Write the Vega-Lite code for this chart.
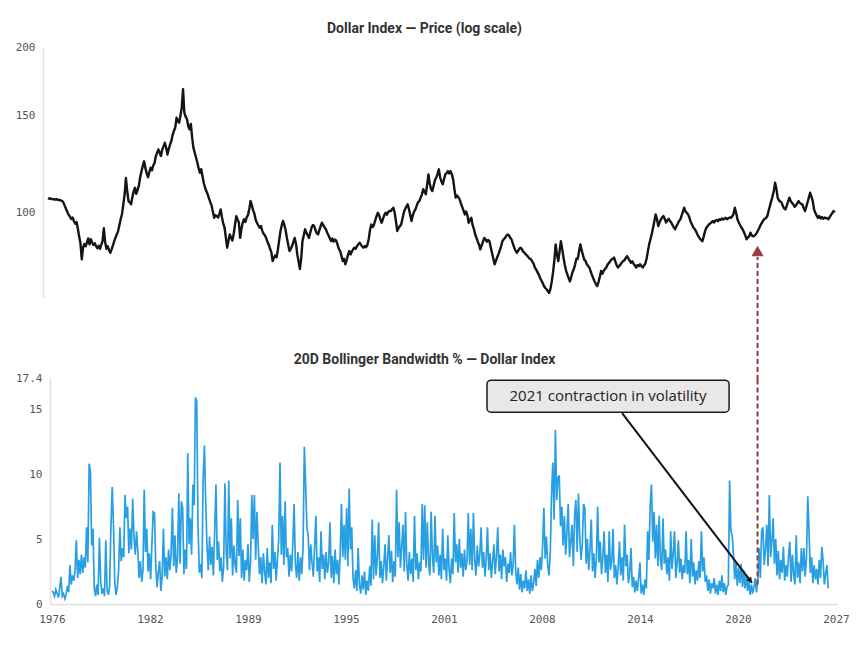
{
  "$schema": "https://vega.github.io/schema/vega-lite/v6.json",
  "background": "#ffffff",
  "autosize": {"type": "pad"},
  "padding": {"left": 15, "top": 22, "right": 10, "bottom": 10},
  "bounds": "flush",
  "spacing": 80,
  "config": {
    "view": {"stroke": null},
    "axis": {
      "grid": false,
      "ticks": false,
      "tickSize": 0,
      "labelFont": "DejaVu Sans Mono",
      "labelFontSize": 11,
      "labelColor": "#555555",
      "domainColor": "#e0e0e0",
      "domainWidth": 1.5,
      "labelPadding": 8,
      "title": null
    },
    "title": {
      "font": "Roboto",
      "fontSize": 14,
      "fontWeight": "bold",
      "color": "#333333",
      "anchor": "middle",
      "frame": "group",
      "offset": 5,
      "baseline": "alphabetic",
      "dx": -19
    }
  },
  "resolve": {"scale": {"x": "independent", "y": "independent"}},
  "datasets": {
    "dxy": [
      {"t":1976,"p":106.3,"b":1.0},{"t":1976.083,"p":106.0,"b":0.9},{"t":1976.167,"p":106.2,"b":0.6},{"t":1976.25,"p":105.9,"b":1.1},{"t":1976.333,"p":105.7,"b":0.8},{"t":1976.417,"p":105.9,"b":0.5},{"t":1976.5,"p":105.6,"b":1.2},{"t":1976.583,"p":105.8,"b":2.1},{"t":1976.667,"p":105.4,"b":0.6},{"t":1976.75,"p":105.5,"b":0.8},{"t":1976.833,"p":105.2,"b":0.4},{"t":1976.917,"p":105.0,"b":0.7},
      {"t":1977,"p":104.2,"b":1.4},{"t":1977.083,"p":102.8,"b":0.9},{"t":1977.167,"p":101.5,"b":3.0},{"t":1977.25,"p":100.2,"b":1.5},{"t":1977.333,"p":99.0,"b":2.2},{"t":1977.417,"p":98.3,"b":1.8},{"t":1977.5,"p":97.4,"b":2.6},{"t":1977.583,"p":98.0,"b":4.9},{"t":1977.667,"p":96.4,"b":2.0},{"t":1977.75,"p":95.5,"b":3.4},{"t":1977.833,"p":96.2,"b":2.3},{"t":1977.917,"p":93.5,"b":3.8},
      {"t":1978,"p":90.5,"b":2.4},{"t":1978.083,"p":88.0,"b":3.6},{"t":1978.167,"p":82.3,"b":2.8},{"t":1978.25,"p":86.5,"b":5.9},{"t":1978.333,"p":87.7,"b":3.2},{"t":1978.417,"p":86.9,"b":10.8},{"t":1978.5,"p":88.3,"b":10.2},{"t":1978.583,"p":89.8,"b":4.5},{"t":1978.667,"p":87.6,"b":5.8},{"t":1978.75,"p":89.5,"b":1.2},{"t":1978.833,"p":88.2,"b":0.6},{"t":1978.917,"p":87.4,"b":1.5},
      {"t":1979,"p":88.0,"b":0.7},{"t":1979.083,"p":87.0,"b":5.1},{"t":1979.167,"p":86.2,"b":1.8},{"t":1979.25,"p":87.1,"b":0.8},{"t":1979.333,"p":86.0,"b":1.2},{"t":1979.417,"p":87.4,"b":0.6},{"t":1979.5,"p":88.8,"b":4.9},{"t":1979.583,"p":93.7,"b":1.1},{"t":1979.667,"p":88.5,"b":0.7},{"t":1979.75,"p":86.0,"b":1.4},{"t":1979.833,"p":86.9,"b":5.9},{"t":1979.917,"p":85.6,"b":9.0},
      {"t":1980,"p":84.6,"b":6.1},{"t":1980.083,"p":85.8,"b":1.7},{"t":1980.167,"p":87.2,"b":0.7},{"t":1980.25,"p":88.8,"b":1.3},{"t":1980.333,"p":90.1,"b":2.6},{"t":1980.417,"p":91.4,"b":5.9},{"t":1980.5,"p":92.6,"b":3.3},{"t":1980.583,"p":95.0,"b":4.3},{"t":1980.667,"p":97.4,"b":3.6},{"t":1980.75,"p":99.5,"b":8.4},{"t":1980.833,"p":103.5,"b":6.6},{"t":1980.917,"p":108.0,"b":7.5},
      {"t":1981,"p":115.6,"b":3.9},{"t":1981.083,"p":109.5,"b":5.8},{"t":1981.167,"p":105.0,"b":4.2},{"t":1981.25,"p":104.4,"b":8.1},{"t":1981.333,"p":103.6,"b":5.2},{"t":1981.417,"p":106.8,"b":3.8},{"t":1981.5,"p":109.4,"b":5.6},{"t":1981.583,"p":111.0,"b":4.1},{"t":1981.667,"p":108.2,"b":2.0},{"t":1981.75,"p":110.0,"b":3.3},{"t":1981.833,"p":112.0,"b":1.7},{"t":1981.917,"p":116.0,"b":2.6},
      {"t":1982,"p":119.0,"b":8.8},{"t":1982.083,"p":121.5,"b":4.0},{"t":1982.167,"p":124.0,"b":5.8},{"t":1982.25,"p":120.5,"b":2.5},{"t":1982.333,"p":118.0,"b":3.9},{"t":1982.417,"p":116.0,"b":1.9},{"t":1982.5,"p":118.3,"b":4.6},{"t":1982.583,"p":120.7,"b":7.1},{"t":1982.667,"p":119.4,"b":7.0},{"t":1982.75,"p":121.8,"b":3.0},{"t":1982.833,"p":123.0,"b":1.3},{"t":1982.917,"p":126.5,"b":2.4},
      {"t":1983,"p":128.4,"b":3.3},{"t":1983.083,"p":130.3,"b":1.0},{"t":1983.167,"p":128.6,"b":2.2},{"t":1983.25,"p":126.8,"b":5.8},{"t":1983.333,"p":130.2,"b":2.1},{"t":1983.417,"p":132.0,"b":3.6},{"t":1983.5,"p":134.0,"b":1.9},{"t":1983.583,"p":131.2,"b":4.2},{"t":1983.667,"p":127.6,"b":2.6},{"t":1983.75,"p":130.5,"b":3.9},{"t":1983.833,"p":133.0,"b":7.4},{"t":1983.917,"p":135.0,"b":2.9},
      {"t":1984,"p":138.5,"b":5.3},{"t":1984.083,"p":140.9,"b":2.4},{"t":1984.167,"p":142.7,"b":3.5},{"t":1984.25,"p":148.8,"b":8.5},{"t":1984.333,"p":146.5,"b":3.1},{"t":1984.417,"p":145.7,"b":7.9},{"t":1984.5,"p":150.2,"b":7.4},{"t":1984.583,"p":155.2,"b":2.3},{"t":1984.667,"p":167.6,"b":4.2},{"t":1984.75,"p":152.0,"b":2.7},{"t":1984.833,"p":149.5,"b":11.6},{"t":1984.917,"p":148.0,"b":4.6},
      {"t":1985,"p":143.6,"b":6.6},{"t":1985.083,"p":141.7,"b":3.8},{"t":1985.167,"p":145.0,"b":9.2},{"t":1985.25,"p":137.0,"b":7.6},{"t":1985.333,"p":131.3,"b":15.9},{"t":1985.417,"p":128.5,"b":15.6},{"t":1985.5,"p":126.0,"b":6.1},{"t":1985.583,"p":123.4,"b":2.4},{"t":1985.667,"p":120.5,"b":3.1},{"t":1985.75,"p":118.2,"b":2.0},{"t":1985.833,"p":120.0,"b":9.7},{"t":1985.917,"p":116.5,"b":12.2},
      {"t":1986,"p":113.2,"b":7.9},{"t":1986.083,"p":111.0,"b":4.5},{"t":1986.167,"p":109.4,"b":2.6},{"t":1986.25,"p":108.0,"b":5.2},{"t":1986.333,"p":106.2,"b":3.0},{"t":1986.417,"p":104.5,"b":4.4},{"t":1986.5,"p":103.0,"b":2.2},{"t":1986.583,"p":100.4,"b":5.6},{"t":1986.667,"p":97.9,"b":9.2},{"t":1986.75,"p":99.0,"b":3.4},{"t":1986.833,"p":98.6,"b":4.8},{"t":1986.917,"p":98.0,"b":2.5},
      {"t":1987,"p":99.5,"b":3.6},{"t":1987.083,"p":101.4,"b":1.7},{"t":1987.167,"p":98.0,"b":2.9},{"t":1987.25,"p":95.5,"b":9.3},{"t":1987.333,"p":93.9,"b":4.0},{"t":1987.417,"p":90.0,"b":2.6},{"t":1987.5,"p":86.4,"b":9.5},{"t":1987.583,"p":88.9,"b":3.5},{"t":1987.667,"p":91.3,"b":6.6},{"t":1987.75,"p":90.2,"b":2.2},{"t":1987.833,"p":89.0,"b":4.5},{"t":1987.917,"p":91.5,"b":3.0},
      {"t":1988,"p":95.0,"b":2.4},{"t":1988.083,"p":98.6,"b":8.0},{"t":1988.167,"p":97.2,"b":3.7},{"t":1988.25,"p":96.0,"b":6.6},{"t":1988.333,"p":90.0,"b":2.0},{"t":1988.417,"p":93.5,"b":4.2},{"t":1988.5,"p":96.0,"b":1.8},{"t":1988.583,"p":97.3,"b":3.4},{"t":1988.667,"p":96.2,"b":2.6},{"t":1988.75,"p":98.1,"b":4.6},{"t":1988.833,"p":99.0,"b":1.7},{"t":1988.917,"p":101.5,"b":3.2},
      {"t":1989,"p":105.0,"b":8.4},{"t":1989.083,"p":103.2,"b":5.0},{"t":1989.167,"p":101.0,"b":8.4},{"t":1989.25,"p":99.5,"b":3.4},{"t":1989.333,"p":97.0,"b":7.1},{"t":1989.417,"p":95.8,"b":4.5},{"t":1989.5,"p":94.8,"b":2.3},{"t":1989.583,"p":93.9,"b":3.6},{"t":1989.667,"p":94.6,"b":1.6},{"t":1989.75,"p":92.8,"b":3.9},{"t":1989.833,"p":91.6,"b":2.5},{"t":1989.917,"p":91.0,"b":1.5},
      {"t":1990,"p":90.0,"b":4.3},{"t":1990.083,"p":88.6,"b":2.0},{"t":1990.167,"p":87.5,"b":3.2},{"t":1990.25,"p":86.0,"b":1.6},{"t":1990.333,"p":84.8,"b":6.1},{"t":1990.417,"p":81.7,"b":2.7},{"t":1990.5,"p":82.8,"b":4.0},{"t":1990.583,"p":83.6,"b":1.8},{"t":1990.667,"p":83.0,"b":3.5},{"t":1990.75,"p":85.5,"b":5.0},{"t":1990.833,"p":89.0,"b":10.9},{"t":1990.917,"p":92.5,"b":3.8},
      {"t":1991,"p":94.8,"b":6.8},{"t":1991.083,"p":96.6,"b":3.0},{"t":1991.167,"p":95.0,"b":7.9},{"t":1991.25,"p":93.0,"b":3.6},{"t":1991.333,"p":90.0,"b":4.3},{"t":1991.417,"p":87.5,"b":2.1},{"t":1991.5,"p":85.2,"b":3.8},{"t":1991.583,"p":86.0,"b":2.5},{"t":1991.667,"p":87.0,"b":4.6},{"t":1991.75,"p":88.5,"b":7.7},{"t":1991.833,"p":90.0,"b":3.1},{"t":1991.917,"p":87.8,"b":2.0},
      {"t":1992,"p":84.0,"b":4.0},{"t":1992.083,"p":81.5,"b":1.8},{"t":1992.167,"p":79.0,"b":3.6},{"t":1992.25,"p":82.5,"b":2.3},{"t":1992.333,"p":88.8,"b":4.4},{"t":1992.417,"p":91.0,"b":12.1},{"t":1992.5,"p":93.3,"b":9.3},{"t":1992.583,"p":92.0,"b":5.9},{"t":1992.667,"p":91.0,"b":5.3},{"t":1992.75,"p":90.0,"b":2.6},{"t":1992.833,"p":92.0,"b":4.6},{"t":1992.917,"p":94.0,"b":3.2},
      {"t":1993,"p":95.0,"b":2.1},{"t":1993.083,"p":94.6,"b":4.4},{"t":1993.167,"p":93.0,"b":6.8},{"t":1993.25,"p":91.8,"b":2.5},{"t":1993.333,"p":91.3,"b":3.6},{"t":1993.417,"p":93.0,"b":1.7},{"t":1993.5,"p":94.5,"b":5.6},{"t":1993.583,"p":95.9,"b":2.7},{"t":1993.667,"p":95.0,"b":3.8},{"t":1993.75,"p":94.0,"b":1.9},{"t":1993.833,"p":93.3,"b":4.0},{"t":1993.917,"p":92.0,"b":2.4},
      {"t":1994,"p":91.0,"b":3.2},{"t":1994.083,"p":89.9,"b":6.3},{"t":1994.167,"p":88.8,"b":2.0},{"t":1994.25,"p":89.8,"b":3.7},{"t":1994.333,"p":88.6,"b":1.6},{"t":1994.417,"p":89.4,"b":4.2},{"t":1994.5,"p":89.0,"b":2.3},{"t":1994.583,"p":87.5,"b":3.4},{"t":1994.667,"p":86.0,"b":1.5},{"t":1994.75,"p":85.2,"b":3.9},{"t":1994.833,"p":83.5,"b":7.7},{"t":1994.917,"p":81.7,"b":3.6},
      {"t":1995,"p":82.5,"b":6.1},{"t":1995.083,"p":80.6,"b":3.4},{"t":1995.167,"p":82.0,"b":7.4},{"t":1995.25,"p":83.8,"b":2.9},{"t":1995.333,"p":85.2,"b":8.9},{"t":1995.417,"p":84.0,"b":4.2},{"t":1995.5,"p":85.0,"b":5.9},{"t":1995.583,"p":85.8,"b":2.0},{"t":1995.667,"p":86.4,"b":1.2},{"t":1995.75,"p":86.0,"b":2.6},{"t":1995.833,"p":87.0,"b":1.0},{"t":1995.917,"p":87.6,"b":4.3},
      {"t":1996,"p":88.2,"b":1.5},{"t":1996.083,"p":87.5,"b":0.8},{"t":1996.167,"p":86.8,"b":2.2},{"t":1996.25,"p":86.4,"b":1.1},{"t":1996.333,"p":87.0,"b":2.5},{"t":1996.417,"p":86.6,"b":0.7},{"t":1996.5,"p":87.4,"b":1.8},{"t":1996.583,"p":89.6,"b":1.0},{"t":1996.667,"p":93.0,"b":2.9},{"t":1996.75,"p":95.2,"b":1.4},{"t":1996.833,"p":94.2,"b":6.5},{"t":1996.917,"p":95.0,"b":1.9},
      {"t":1997,"p":96.8,"b":5.3},{"t":1997.083,"p":98.5,"b":2.2},{"t":1997.167,"p":100.0,"b":3.6},{"t":1997.25,"p":99.0,"b":6.3},{"t":1997.333,"p":97.2,"b":2.0},{"t":1997.417,"p":95.9,"b":3.3},{"t":1997.5,"p":97.5,"b":1.6},{"t":1997.583,"p":99.0,"b":2.9},{"t":1997.667,"p":100.0,"b":4.6},{"t":1997.75,"p":99.2,"b":1.8},{"t":1997.833,"p":100.3,"b":3.5},{"t":1997.917,"p":100.7,"b":5.3},
      {"t":1998,"p":100.7,"b":2.4},{"t":1998.083,"p":101.5,"b":4.1},{"t":1998.167,"p":102.1,"b":1.7},{"t":1998.25,"p":100.0,"b":3.3},{"t":1998.333,"p":96.5,"b":2.1},{"t":1998.417,"p":92.6,"b":8.8},{"t":1998.5,"p":93.8,"b":3.6},{"t":1998.583,"p":94.5,"b":6.3},{"t":1998.667,"p":95.2,"b":2.8},{"t":1998.75,"p":97.5,"b":4.4},{"t":1998.833,"p":100.0,"b":6.1},{"t":1998.917,"p":101.5,"b":2.5},
      {"t":1999,"p":102.6,"b":7.1},{"t":1999.083,"p":103.6,"b":3.0},{"t":1999.167,"p":101.5,"b":1.8},{"t":1999.25,"p":99.0,"b":4.0},{"t":1999.333,"p":96.6,"b":2.3},{"t":1999.417,"p":99.0,"b":3.5},{"t":1999.5,"p":100.5,"b":1.7},{"t":1999.583,"p":101.4,"b":6.8},{"t":1999.667,"p":103.0,"b":2.6},{"t":1999.75,"p":104.5,"b":3.9},{"t":1999.833,"p":105.0,"b":1.9},{"t":1999.917,"p":106.5,"b":3.2},
      {"t":2000,"p":108.0,"b":2.5},{"t":2000.083,"p":110.3,"b":7.7},{"t":2000.167,"p":109.2,"b":3.4},{"t":2000.25,"p":108.0,"b":7.6},{"t":2000.333,"p":112.5,"b":2.8},{"t":2000.417,"p":117.4,"b":6.3},{"t":2000.5,"p":113.0,"b":3.1},{"t":2000.583,"p":110.5,"b":2.2},{"t":2000.667,"p":109.5,"b":7.1},{"t":2000.75,"p":112.0,"b":3.6},{"t":2000.833,"p":114.5,"b":2.4},{"t":2000.917,"p":115.8,"b":6.8},
      {"t":2001,"p":117.5,"b":3.2},{"t":2001.083,"p":119.9,"b":4.5},{"t":2001.167,"p":116.0,"b":2.2},{"t":2001.25,"p":114.0,"b":3.8},{"t":2001.333,"p":112.6,"b":1.9},{"t":2001.417,"p":115.0,"b":5.8},{"t":2001.5,"p":117.4,"b":2.6},{"t":2001.583,"p":118.0,"b":3.5},{"t":2001.667,"p":119.0,"b":1.8},{"t":2001.75,"p":117.8,"b":5.3},{"t":2001.833,"p":119.0,"b":2.7},{"t":2001.917,"p":117.5,"b":1.6},
      {"t":2002,"p":115.0,"b":3.5},{"t":2002.083,"p":110.5,"b":2.3},{"t":2002.167,"p":106.5,"b":7.0},{"t":2002.25,"p":107.5,"b":3.2},{"t":2002.333,"p":106.8,"b":4.6},{"t":2002.417,"p":105.8,"b":2.4},{"t":2002.5,"p":104.0,"b":5.0},{"t":2002.583,"p":102.5,"b":2.8},{"t":2002.667,"p":101.0,"b":3.9},{"t":2002.75,"p":99.3,"b":2.1},{"t":2002.833,"p":100.5,"b":4.2},{"t":2002.917,"p":99.0,"b":2.6},
      {"t":2003,"p":95.9,"b":3.3},{"t":2003.083,"p":97.0,"b":7.0},{"t":2003.167,"p":97.9,"b":3.0},{"t":2003.25,"p":95.0,"b":5.8},{"t":2003.333,"p":93.5,"b":2.6},{"t":2003.417,"p":91.3,"b":7.0},{"t":2003.5,"p":90.0,"b":3.4},{"t":2003.583,"p":88.6,"b":2.2},{"t":2003.667,"p":87.5,"b":4.5},{"t":2003.75,"p":85.8,"b":2.9},{"t":2003.833,"p":87.2,"b":3.8},{"t":2003.917,"p":88.5,"b":5.9},
      {"t":2004,"p":90.0,"b":2.8},{"t":2004.083,"p":89.5,"b":4.0},{"t":2004.167,"p":88.6,"b":2.1},{"t":2004.25,"p":89.2,"b":3.5},{"t":2004.333,"p":88.8,"b":5.9},{"t":2004.417,"p":86.5,"b":2.6},{"t":2004.5,"p":84.5,"b":3.9},{"t":2004.583,"p":82.5,"b":2.0},{"t":2004.667,"p":80.6,"b":3.3},{"t":2004.75,"p":81.8,"b":4.6},{"t":2004.833,"p":83.0,"b":2.3},{"t":2004.917,"p":84.2,"b":3.7},
      {"t":2005,"p":85.5,"b":5.9},{"t":2005.083,"p":87.0,"b":2.5},{"t":2005.167,"p":88.8,"b":3.8},{"t":2005.25,"p":89.5,"b":1.9},{"t":2005.333,"p":90.0,"b":4.2},{"t":2005.417,"p":90.8,"b":2.9},{"t":2005.5,"p":91.3,"b":3.6},{"t":2005.583,"p":91.0,"b":1.7},{"t":2005.667,"p":90.0,"b":3.1},{"t":2005.75,"p":89.5,"b":2.4},{"t":2005.833,"p":88.0,"b":4.0},{"t":2005.917,"p":86.5,"b":2.2},
      {"t":2006,"p":85.5,"b":3.0},{"t":2006.083,"p":84.6,"b":6.1},{"t":2006.167,"p":85.2,"b":2.6},{"t":2006.25,"p":86.0,"b":1.5},{"t":2006.333,"p":86.4,"b":2.8},{"t":2006.417,"p":85.8,"b":1.1},{"t":2006.5,"p":85.0,"b":2.3},{"t":2006.583,"p":84.6,"b":0.9},{"t":2006.667,"p":84.0,"b":1.8},{"t":2006.75,"p":83.6,"b":1.2},{"t":2006.833,"p":83.0,"b":2.6},{"t":2006.917,"p":82.5,"b":1.0},
      {"t":2007,"p":82.3,"b":1.9},{"t":2007.083,"p":81.5,"b":0.8},{"t":2007.167,"p":80.8,"b":2.2},{"t":2007.25,"p":79.5,"b":1.0},{"t":2007.333,"p":78.8,"b":1.6},{"t":2007.417,"p":78.0,"b":2.7},{"t":2007.5,"p":77.2,"b":1.4},{"t":2007.583,"p":76.2,"b":3.4},{"t":2007.667,"p":75.3,"b":2.0},{"t":2007.75,"p":74.5,"b":3.6},{"t":2007.833,"p":73.6,"b":2.6},{"t":2007.917,"p":73.0,"b":4.4},
      {"t":2008,"p":72.6,"b":7.4},{"t":2008.083,"p":72.0,"b":3.5},{"t":2008.167,"p":71.5,"b":5.2},{"t":2008.25,"p":72.8,"b":3.0},{"t":2008.333,"p":75.0,"b":2.2},{"t":2008.417,"p":78.0,"b":4.0},{"t":2008.5,"p":82.0,"b":8.4},{"t":2008.583,"p":87.6,"b":10.9},{"t":2008.667,"p":84.0,"b":6.5},{"t":2008.75,"p":81.7,"b":13.4},{"t":2008.833,"p":85.0,"b":8.0},{"t":2008.917,"p":88.8,"b":9.7},
      {"t":2009,"p":86.0,"b":9.9},{"t":2009.083,"p":82.9,"b":6.0},{"t":2009.167,"p":80.5,"b":7.5},{"t":2009.25,"p":78.5,"b":4.5},{"t":2009.333,"p":77.3,"b":6.8},{"t":2009.417,"p":76.0,"b":3.8},{"t":2009.5,"p":75.0,"b":5.5},{"t":2009.583,"p":76.5,"b":7.7},{"t":2009.667,"p":78.0,"b":3.6},{"t":2009.75,"p":79.0,"b":4.8},{"t":2009.833,"p":80.6,"b":6.1},{"t":2009.917,"p":82.5,"b":2.9},
      {"t":2010,"p":82.5,"b":6.8},{"t":2010.083,"p":85.0,"b":8.0},{"t":2010.167,"p":87.6,"b":4.0},{"t":2010.25,"p":85.5,"b":8.5},{"t":2010.333,"p":83.8,"b":5.2},{"t":2010.417,"p":82.2,"b":3.4},{"t":2010.5,"p":81.7,"b":4.6},{"t":2010.583,"p":80.6,"b":7.7},{"t":2010.667,"p":80.0,"b":7.4},{"t":2010.75,"p":79.5,"b":3.1},{"t":2010.833,"p":78.2,"b":5.0},{"t":2010.917,"p":77.0,"b":2.6},
      {"t":2011,"p":76.0,"b":4.2},{"t":2011.083,"p":75.0,"b":6.5},{"t":2011.167,"p":74.2,"b":2.5},{"t":2011.25,"p":73.6,"b":3.9},{"t":2011.333,"p":74.8,"b":2.0},{"t":2011.417,"p":76.5,"b":3.6},{"t":2011.5,"p":78.4,"b":7.5},{"t":2011.583,"p":77.5,"b":3.2},{"t":2011.667,"p":78.5,"b":4.8},{"t":2011.75,"p":79.0,"b":2.3},{"t":2011.833,"p":79.5,"b":3.5},{"t":2011.917,"p":80.5,"b":5.6},
      {"t":2012,"p":81.0,"b":2.4},{"t":2012.083,"p":81.7,"b":3.8},{"t":2012.167,"p":82.2,"b":1.7},{"t":2012.25,"p":82.5,"b":5.6},{"t":2012.333,"p":82.9,"b":2.6},{"t":2012.417,"p":81.5,"b":3.3},{"t":2012.5,"p":80.2,"b":5.8},{"t":2012.583,"p":79.5,"b":2.0},{"t":2012.667,"p":80.0,"b":3.0},{"t":2012.75,"p":80.6,"b":1.5},{"t":2012.833,"p":81.2,"b":2.8},{"t":2012.917,"p":81.7,"b":4.8},
      {"t":2013,"p":82.0,"b":2.2},{"t":2013.083,"p":82.8,"b":3.6},{"t":2013.167,"p":83.4,"b":1.8},{"t":2013.25,"p":82.6,"b":6.1},{"t":2013.333,"p":81.8,"b":2.9},{"t":2013.417,"p":81.1,"b":3.8},{"t":2013.5,"p":81.6,"b":1.6},{"t":2013.583,"p":80.8,"b":2.4},{"t":2013.667,"p":80.2,"b":4.3},{"t":2013.75,"p":79.5,"b":1.3},{"t":2013.833,"p":80.3,"b":2.1},{"t":2013.917,"p":80.0,"b":0.9},
      {"t":2014,"p":80.6,"b":1.8},{"t":2014.083,"p":80.0,"b":1.0},{"t":2014.167,"p":79.5,"b":2.0},{"t":2014.25,"p":80.2,"b":3.2},{"t":2014.333,"p":80.8,"b":0.8},{"t":2014.417,"p":82.5,"b":1.5},{"t":2014.5,"p":85.0,"b":0.7},{"t":2014.583,"p":87.6,"b":1.9},{"t":2014.667,"p":89.5,"b":1.2},{"t":2014.75,"p":91.5,"b":5.6},{"t":2014.833,"p":93.9,"b":3.4},{"t":2014.917,"p":96.5,"b":7.6},
      {"t":2015,"p":99.3,"b":9.2},{"t":2015.083,"p":97.5,"b":4.8},{"t":2015.167,"p":94.6,"b":7.1},{"t":2015.25,"p":96.0,"b":3.5},{"t":2015.333,"p":97.2,"b":6.1},{"t":2015.417,"p":98.0,"b":2.9},{"t":2015.5,"p":98.6,"b":6.8},{"t":2015.583,"p":97.5,"b":3.4},{"t":2015.667,"p":96.0,"b":2.6},{"t":2015.75,"p":96.8,"b":6.6},{"t":2015.833,"p":97.5,"b":3.1},{"t":2015.917,"p":96.6,"b":4.2},
      {"t":2016,"p":96.0,"b":2.3},{"t":2016.083,"p":95.0,"b":3.6},{"t":2016.167,"p":94.0,"b":1.8},{"t":2016.25,"p":93.3,"b":5.6},{"t":2016.333,"p":94.5,"b":2.7},{"t":2016.417,"p":95.5,"b":3.9},{"t":2016.5,"p":96.6,"b":5.6},{"t":2016.583,"p":97.2,"b":2.0},{"t":2016.667,"p":98.8,"b":3.1},{"t":2016.75,"p":100.5,"b":4.9},{"t":2016.833,"p":102.1,"b":2.4},{"t":2016.917,"p":100.5,"b":3.5},
      {"t":2017,"p":100.0,"b":1.9},{"t":2017.083,"p":99.3,"b":3.0},{"t":2017.167,"p":98.0,"b":2.4},{"t":2017.25,"p":96.2,"b":5.6},{"t":2017.333,"p":95.2,"b":2.3},{"t":2017.417,"p":94.0,"b":3.4},{"t":2017.5,"p":93.5,"b":1.6},{"t":2017.583,"p":92.6,"b":5.0},{"t":2017.667,"p":91.5,"b":2.1},{"t":2017.75,"p":90.6,"b":3.2},{"t":2017.833,"p":89.8,"b":1.5},{"t":2017.917,"p":89.2,"b":2.6},
      {"t":2018,"p":88.8,"b":1.8},{"t":2018.083,"p":90.5,"b":3.3},{"t":2018.167,"p":92.5,"b":2.0},{"t":2018.25,"p":93.9,"b":5.6},{"t":2018.333,"p":94.5,"b":2.5},{"t":2018.417,"p":95.2,"b":3.6},{"t":2018.5,"p":95.6,"b":1.7},{"t":2018.583,"p":96.0,"b":2.2},{"t":2018.667,"p":96.6,"b":1.0},{"t":2018.75,"p":96.0,"b":1.9},{"t":2018.833,"p":96.8,"b":0.8},{"t":2018.917,"p":97.0,"b":1.6},
      {"t":2019,"p":96.5,"b":1.2},{"t":2019.083,"p":97.3,"b":2.0},{"t":2019.167,"p":97.0,"b":0.8},{"t":2019.25,"p":97.6,"b":1.5},{"t":2019.333,"p":97.2,"b":0.7},{"t":2019.417,"p":97.5,"b":1.8},{"t":2019.5,"p":97.9,"b":1.0},{"t":2019.583,"p":97.3,"b":2.2},{"t":2019.667,"p":97.8,"b":0.9},{"t":2019.75,"p":98.0,"b":1.6},{"t":2019.833,"p":97.9,"b":0.7},{"t":2019.917,"p":98.5,"b":1.3},
      {"t":2020,"p":99.5,"b":1.5},{"t":2020.083,"p":102.1,"b":9.5},{"t":2020.167,"p":100.0,"b":5.6},{"t":2020.25,"p":97.3,"b":5.3},{"t":2020.333,"p":96.0,"b":3.8},{"t":2020.417,"p":95.0,"b":1.9},{"t":2020.5,"p":94.0,"b":3.2},{"t":2020.583,"p":93.3,"b":1.4},{"t":2020.667,"p":92.2,"b":2.8},{"t":2020.75,"p":91.0,"b":1.6},{"t":2020.833,"p":89.5,"b":3.1},{"t":2020.917,"p":90.2,"b":1.3},
      {"t":2021,"p":90.5,"b":2.6},{"t":2021.083,"p":92.0,"b":1.2},{"t":2021.167,"p":91.0,"b":2.2},{"t":2021.25,"p":90.6,"b":1.0},{"t":2021.333,"p":90.8,"b":1.8},{"t":2021.417,"p":91.3,"b":0.7},{"t":2021.5,"p":92.0,"b":1.5},{"t":2021.583,"p":93.0,"b":0.8},{"t":2021.667,"p":94.0,"b":1.3},{"t":2021.75,"p":95.2,"b":2.0},{"t":2021.833,"p":96.0,"b":0.9},{"t":2021.917,"p":97.0,"b":1.9},
      {"t":2022,"p":97.5,"b":4.3},{"t":2022.083,"p":97.8,"b":2.0},{"t":2022.167,"p":98.6,"b":5.6},{"t":2022.25,"p":100.8,"b":5.9},{"t":2022.333,"p":102.8,"b":3.0},{"t":2022.417,"p":105.0,"b":4.2},{"t":2022.5,"p":107.0,"b":6.1},{"t":2022.583,"p":109.5,"b":2.9},{"t":2022.667,"p":113.4,"b":8.4},{"t":2022.75,"p":110.5,"b":3.6},{"t":2022.833,"p":106.5,"b":4.8},{"t":2022.917,"p":105.2,"b":6.6},
      {"t":2023,"p":104.8,"b":3.1},{"t":2023.083,"p":104.3,"b":5.0},{"t":2023.167,"p":102.8,"b":2.2},{"t":2023.25,"p":101.8,"b":4.1},{"t":2023.333,"p":101.4,"b":1.9},{"t":2023.417,"p":103.0,"b":3.4},{"t":2023.5,"p":104.8,"b":2.4},{"t":2023.583,"p":106.5,"b":4.4},{"t":2023.667,"p":105.0,"b":1.8},{"t":2023.75,"p":104.2,"b":3.0},{"t":2023.833,"p":103.6,"b":2.1},{"t":2023.917,"p":102.5,"b":3.7},
      {"t":2024,"p":103.0,"b":4.8},{"t":2024.083,"p":104.0,"b":1.7},{"t":2024.167,"p":105.0,"b":3.8},{"t":2024.25,"p":104.2,"b":2.3},{"t":2024.333,"p":103.8,"b":1.5},{"t":2024.417,"p":103.6,"b":5.3},{"t":2024.5,"p":102.0,"b":2.0},{"t":2024.583,"p":100.7,"b":3.2},{"t":2024.667,"p":102.5,"b":1.6},{"t":2024.75,"p":104.5,"b":4.3},{"t":2024.833,"p":106.5,"b":2.5},{"t":2024.917,"p":108.7,"b":4.3},
      {"t":2025,"p":107.0,"b":2.1},{"t":2025.083,"p":105.0,"b":3.5},{"t":2025.167,"p":101.4,"b":8.3},{"t":2025.25,"p":100.0,"b":5.6},{"t":2025.333,"p":98.8,"b":2.4},{"t":2025.417,"p":97.9,"b":3.6},{"t":2025.5,"p":98.6,"b":1.6},{"t":2025.583,"p":97.6,"b":3.0},{"t":2025.667,"p":98.2,"b":1.9},{"t":2025.75,"p":97.5,"b":2.7},{"t":2025.833,"p":98.0,"b":1.5},{"t":2025.917,"p":97.8,"b":3.4},
      {"t":2026,"p":97.8,"b":2.0},{"t":2026.083,"p":97.3,"b":4.4},{"t":2026.167,"p":98.2,"b":3.3},{"t":2026.25,"p":99.0,"b":1.5},{"t":2026.333,"p":99.8,"b":2.3},{"t":2026.417,"p":100.7,"b":3.0},{"t":2026.5,"p":100.2,"b":1.2}
    ]
  },
  "vconcat": [
    {
      "title": {"text": "Dollar Index — Price (log scale)"},
      "width": 787,
      "height": 251,
      "layer": [
        {
          "data": {"name": "dxy"},
          "mark": {"type": "line", "color": "#141414", "strokeWidth": 2.4, "strokeJoin": "round"},
          "encoding": {
            "x": {"field": "t", "type": "quantitative", "title": null, "scale": {"domain": [1976.128, 2026.64], "nice": false, "zero": false}, "axis": null},
            "y": {"field": "p", "type": "quantitative", "title": null, "scale": {"type": "log", "domain": [70, 200], "nice": false}, "axis": {"values": [100, 150, 200], "format": "d", "offset": 7}}
          }
        },
        {
          "data": {"values": [{"t": 2021.54, "lo": 49.7, "hi": 83.1}]},
          "mark": {"type": "rule", "color": "#8e3b3b", "strokeWidth": 2, "strokeDash": [5, 3]},
          "encoding": {
            "x": {"field": "t", "type": "quantitative", "title": null, "scale": {"domain": [1976.128, 2026.64], "nice": false, "zero": false}, "axis": null},
            "y": {"field": "lo", "type": "quantitative", "title": null, "scale": {"type": "log", "domain": [70, 200], "nice": false}},
            "y2": {"field": "hi"}
          }
        },
        {
          "data": {"values": [{"t": 2021.54, "v": 85.2}]},
          "mark": {"type": "point", "shape": "triangle-up", "filled": true, "size": 150, "color": "#9a3d3d", "opacity": 1},
          "encoding": {
            "x": {"field": "t", "type": "quantitative", "title": null, "scale": {"domain": [1976.128, 2026.64], "nice": false, "zero": false}, "axis": null},
            "y": {"field": "v", "type": "quantitative", "title": null, "scale": {"type": "log", "domain": [70, 200], "nice": false}}
          }
        }
      ]
    },
    {
      "title": {"text": "20D Bollinger Bandwidth % — Dollar Index"},
      "width": 787,
      "height": 226,
      "layer": [
        {
          "data": {"name": "dxy"},
          "mark": {"type": "line", "color": "#279fe2", "strokeWidth": 1.7},
          "encoding": {
            "x": {"field": "t", "type": "quantitative", "title": null, "scale": {"domain": [1975.87, 2027.07], "nice": false, "zero": false},
              "axis": {"values": [1976, 1982.375, 1988.75, 1995.125, 2001.5, 2007.875, 2014.25, 2020.625, 2027], "labelFlush": false, "labelOverlap": false, "labelPadding": 9,
                "labelExpr": "['1976','1982','1989','1995','2001','2008','2014','2020','2027'][round((datum.value - 1976) / 6.375)]"}},
            "y": {"field": "b", "type": "quantitative", "title": null, "scale": {"domain": [0, 17.4], "nice": false}, "axis": {"values": [0, 5, 10, 15, 17.4], "labelExpr": "format(datum.value, '~g')"}}
          }
        },
        {
          "data": {"values": [{"t": 2021.9, "lo": 1.5, "hi": 17.4}]},
          "mark": {"type": "rule", "color": "#8e3b3b", "strokeWidth": 2, "strokeDash": [5, 3]},
          "encoding": {
            "x": {"field": "t", "type": "quantitative", "title": null, "scale": {"domain": [1975.87, 2027.07], "nice": false, "zero": false}},
            "y": {"field": "lo", "type": "quantitative", "title": null, "scale": {"domain": [0, 17.4], "nice": false}},
            "y2": {"field": "hi"}
          }
        },
        {
          "data": {"values": [{"t0": 2004.3, "t1": 2020.05, "v0": 14.77, "v1": 17.23}]},
          "mark": {"type": "rect", "fill": "#e8e8e8", "stroke": "#1c1c1c", "strokeWidth": 1.5, "cornerRadius": 4},
          "encoding": {
            "x": {"field": "t0", "type": "quantitative", "title": null, "scale": {"domain": [1975.87, 2027.07], "nice": false, "zero": false}},
            "x2": {"field": "t1"},
            "y": {"field": "v0", "type": "quantitative", "title": null, "scale": {"domain": [0, 17.4], "nice": false}},
            "y2": {"field": "v1"}
          }
        },
        {
          "data": {"values": [{"t": 2012.17, "v": 16.0, "label": "2021 contraction in volatility"}]},
          "mark": {"type": "text", "font": "Open Sans", "fontSize": 15, "color": "#222222", "align": "center", "baseline": "middle"},
          "encoding": {
            "x": {"field": "t", "type": "quantitative", "title": null, "scale": {"domain": [1975.87, 2027.07], "nice": false, "zero": false}},
            "y": {"field": "v", "type": "quantitative", "title": null, "scale": {"domain": [0, 17.4], "nice": false}},
            "text": {"field": "label"}
          }
        },
        {
          "data": {"values": [{"t0": 2013.09, "v0": 14.69, "t1": 2021.54, "v1": 1.62}]},
          "mark": {"type": "rule", "color": "#111111", "strokeWidth": 2},
          "encoding": {
            "x": {"field": "t0", "type": "quantitative", "title": null, "scale": {"domain": [1975.87, 2027.07], "nice": false, "zero": false}},
            "x2": {"field": "t1"},
            "y": {"field": "v0", "type": "quantitative", "title": null, "scale": {"domain": [0, 17.4], "nice": false}},
            "y2": {"field": "v1"}
          }
        },
        {
          "data": {"values": [{"t": 2021.43, "v": 1.8}]},
          "mark": {"type": "point", "shape": "triangle-down", "filled": true, "size": 40, "color": "#111111", "opacity": 1, "angle": -37.4},
          "encoding": {
            "x": {"field": "t", "type": "quantitative", "title": null, "scale": {"domain": [1975.87, 2027.07], "nice": false, "zero": false}},
            "y": {"field": "v", "type": "quantitative", "title": null, "scale": {"domain": [0, 17.4], "nice": false}}
          }
        }
      ]
    }
  ]
}
